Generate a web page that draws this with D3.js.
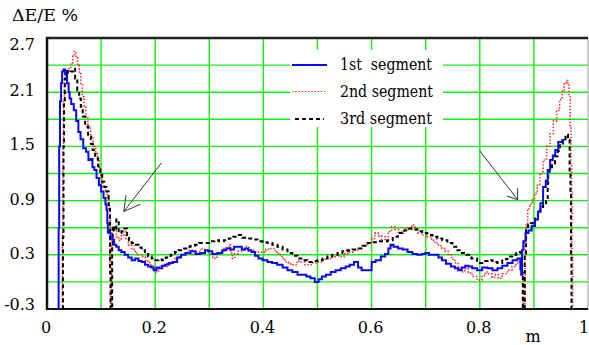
<!DOCTYPE html>
<html>
<head>
<meta charset="utf-8">
<script src="https://cdn.jsdelivr.net/npm/d3@7"></script>
<style>
  body { margin: 0; background: #fff; }
  svg { display: block; }
  svg text { font-family: "DejaVu Serif", "Liberation Serif", serif; }
</style>
</head>
<body>
<div id="chart"></div>
<script>
// tick labels
const yTicks = [2.7, 2.1, 1.5, 0.9, 0.3, -0.3];
const yGrid = [2.4, 2.1, 1.8, 1.5, 1.2, 0.9, 0.6, 0.3, 0.0];
const xTicks = [0, 0.2, 0.4, 0.6, 0.8, 1];
const xGrid = [0.1, 0.2, 0.3, 0.4, 0.5, 0.6, 0.7, 0.8, 0.9];
const seriesNames = ["1st  segment", "2nd segment", "3rd segment"];

// 1st segment (blue), [m, dE/E %]
const seg1 = [[0.021,-0.3],[0.022,0.6],[0.023,1.5],[0.025,2.0],[0.027,2.2],[0.029,2.33],[0.032,2.35],[0.035,2.3],
  [0.039,2.2],[0.041,2.1],[0.0425,2.03],[0.047,1.97],[0.052,1.9],[0.056,1.78],[0.06,1.66],[0.064,1.58],[0.07,1.48],
  [0.074,1.44],[0.079,1.35],[0.082,1.36],[0.086,1.27],[0.089,1.24],[0.094,1.15],[0.098,1.07],[0.102,1.0],[0.107,0.93],
  [0.109,0.86],[0.111,0.80],[0.112,0.65],[0.113,0.55],[0.116,0.54],[0.119,0.5],[0.122,0.47],[0.126,0.41],[0.13,0.39],
  [0.135,0.35],[0.14,0.33],[0.147,0.30],[0.153,0.27],[0.16,0.24],[0.166,0.26],[0.172,0.23],[0.178,0.22],[0.184,0.19],
  [0.19,0.17],[0.195,0.16],[0.2,0.13],[0.205,0.16],[0.209,0.15],[0.215,0.18],[0.221,0.19],[0.229,0.21],[0.237,0.22],
  [0.244,0.27],[0.252,0.30],[0.26,0.32],[0.27,0.34],[0.279,0.31],[0.289,0.32],[0.295,0.35],[0.301,0.34],[0.31,0.31],
  [0.32,0.32],[0.328,0.35],[0.335,0.37],[0.342,0.36],[0.35,0.39],[0.357,0.39],[0.363,0.36],[0.369,0.37],[0.375,0.35],
  [0.381,0.33],[0.388,0.29],[0.394,0.26],[0.403,0.24],[0.412,0.22],[0.42,0.21],[0.431,0.19],[0.44,0.16],[0.449,0.13],
  [0.458,0.11],[0.468,0.08],[0.476,0.08],[0.483,0.06],[0.491,0.04],[0.499,0.0],[0.505,0.03],[0.511,0.06],[0.52,0.08],
  [0.529,0.11],[0.538,0.13],[0.548,0.15],[0.556,0.17],[0.563,0.19],[0.572,0.22],[0.578,0.16],[0.585,0.13],[0.597,0.13],
  [0.603,0.22],[0.612,0.24],[0.622,0.28],[0.628,0.31],[0.634,0.37],[0.636,0.41],[0.645,0.39],[0.653,0.37],[0.662,0.36],
  [0.671,0.33],[0.68,0.31],[0.689,0.30],[0.696,0.31],[0.702,0.32],[0.71,0.30],[0.72,0.30],[0.727,0.27],[0.733,0.24],
  [0.742,0.2],[0.751,0.17],[0.757,0.15],[0.763,0.13],[0.77,0.16],[0.776,0.18],[0.782,0.17],[0.79,0.15],[0.8,0.13],
  [0.809,0.16],[0.819,0.15],[0.828,0.13],[0.837,0.15],[0.846,0.18],[0.856,0.21],[0.865,0.24],[0.874,0.26],[0.876,0.14],
  [0.877,0.08],[0.879,0.35],[0.882,0.45],[0.887,0.54],[0.893,0.57],[0.899,0.62],[0.905,0.69],[0.91,0.78],[0.914,0.87],
  [0.92,1.05],[0.924,1.12],[0.927,1.24],[0.933,1.35],[0.937,1.4],[0.942,1.46],[0.948,1.55],[0.957,1.57]];

// 2nd segment (red dotted)
const seg2 = [[0.028,-0.3],[0.029,0.5],[0.030,1.5],[0.031,2.0],[0.033,2.25],[0.037,2.32],[0.042,2.36],[0.046,2.42],
  [0.049,2.5],[0.052,2.55],[0.055,2.48],[0.058,2.4],[0.061,2.31],[0.064,2.18],[0.067,2.05],[0.07,1.94],[0.073,1.83],
  [0.078,1.72],[0.083,1.61],[0.088,1.5],[0.092,1.42],[0.095,1.35],[0.098,1.25],[0.101,1.15],[0.104,1.05],[0.11,1.02],
  [0.113,0.91],[0.116,0.8],[0.117,0.2],[0.118,-0.3],[0.119,-0.3],[0.12,0.4],[0.121,0.6],[0.126,0.57],[0.13,0.5],
  [0.135,0.46],[0.14,0.52],[0.144,0.56],[0.148,0.48],[0.153,0.41],[0.16,0.36],[0.166,0.32],[0.172,0.30],[0.178,0.28],
  [0.186,0.23],[0.194,0.19],[0.198,0.14],[0.203,0.11],[0.21,0.15],[0.218,0.17],[0.225,0.2],[0.233,0.22],[0.241,0.26],
  [0.249,0.30],[0.256,0.32],[0.264,0.35],[0.272,0.31],[0.28,0.33],[0.288,0.37],[0.295,0.35],[0.302,0.31],[0.311,0.26],
  [0.317,0.31],[0.323,0.33],[0.33,0.37],[0.335,0.38],[0.338,0.41],[0.341,0.32],[0.344,0.26],[0.35,0.31],[0.356,0.34],
  [0.363,0.35],[0.37,0.39],[0.376,0.34],[0.381,0.35],[0.39,0.33],[0.4,0.33],[0.409,0.36],[0.418,0.37],[0.425,0.33],
  [0.431,0.30],[0.437,0.26],[0.443,0.22],[0.45,0.2],[0.458,0.19],[0.466,0.23],[0.474,0.22],[0.48,0.19],[0.486,0.19],
  [0.495,0.21],[0.505,0.22],[0.514,0.25],[0.523,0.26],[0.53,0.28],[0.535,0.30],[0.544,0.28],[0.554,0.31],[0.563,0.33],
  [0.571,0.35],[0.579,0.37],[0.588,0.40],[0.597,0.43],[0.603,0.48],[0.609,0.54],[0.615,0.51],[0.622,0.47],[0.628,0.50],
  [0.634,0.56],[0.64,0.61],[0.646,0.58],[0.653,0.55],[0.659,0.56],[0.665,0.6],[0.671,0.58],[0.677,0.63],[0.683,0.59],
  [0.689,0.54],[0.697,0.52],[0.708,0.50],[0.714,0.46],[0.72,0.43],[0.727,0.4],[0.733,0.37],[0.739,0.34],[0.745,0.30],
  [0.751,0.25],[0.757,0.21],[0.763,0.15],[0.769,0.11],[0.775,0.15],[0.782,0.1],[0.79,0.06],[0.8,0.02],[0.808,0.07],
  [0.813,0.11],[0.819,0.09],[0.826,0.05],[0.832,0.08],[0.837,0.04],[0.846,0.09],[0.856,0.13],[0.863,0.17],[0.871,0.21],
  [0.876,0.24],[0.879,0.1],[0.881,-0.3],[0.883,-0.3],[0.884,0.43],[0.887,0.65],[0.89,0.81],[0.895,0.86],[0.899,0.91],
  [0.904,0.98],[0.908,1.07],[0.914,1.2],[0.92,1.35],[0.927,1.5],[0.933,1.64],[0.939,1.78],[0.945,1.90],[0.95,2.02],
  [0.954,2.12],[0.958,2.19],[0.961,2.23],[0.964,2.2],[0.966,2.05],[0.968,1.72],[0.969,1.3],[0.97,0.98],[0.971,0.3],
  [0.972,-0.3]];

// 3rd segment (black dashed)
const seg3 = [[0.029,-0.3],[0.030,0.5],[0.031,1.5],[0.032,2.0],[0.034,2.25],[0.036,2.35],[0.041,2.31],[0.046,2.33],
  [0.05,2.36],[0.054,2.25],[0.058,2.12],[0.061,2.03],[0.064,1.94],[0.068,1.83],[0.073,1.72],[0.079,1.61],[0.083,1.53],
  [0.086,1.46],[0.092,1.37],[0.097,1.28],[0.1,1.22],[0.104,1.11],[0.108,1.05],[0.112,1.0],[0.116,0.83],[0.117,0.1],
  [0.118,-0.3],[0.12,-0.3],[0.121,0.4],[0.122,0.62],[0.126,0.57],[0.13,0.69],[0.135,0.54],[0.14,0.56],[0.146,0.59],
  [0.15,0.5],[0.153,0.46],[0.16,0.43],[0.166,0.41],[0.172,0.38],[0.178,0.35],[0.184,0.31],[0.19,0.28],[0.197,0.26],
  [0.203,0.24],[0.209,0.25],[0.215,0.24],[0.224,0.27],[0.233,0.30],[0.24,0.33],[0.246,0.35],[0.254,0.37],[0.261,0.39],
  [0.27,0.40],[0.277,0.41],[0.285,0.43],[0.295,0.43],[0.305,0.45],[0.314,0.46],[0.322,0.45],[0.332,0.46],[0.34,0.48],
  [0.348,0.5],[0.357,0.52],[0.365,0.49],[0.375,0.48],[0.384,0.47],[0.394,0.45],[0.403,0.44],[0.412,0.43],[0.421,0.41],
  [0.431,0.39],[0.44,0.36],[0.449,0.32],[0.458,0.29],[0.468,0.26],[0.477,0.24],[0.486,0.22],[0.495,0.23],[0.505,0.24],
  [0.514,0.26],[0.523,0.28],[0.532,0.30],[0.542,0.32],[0.55,0.34],[0.56,0.35],[0.57,0.36],[0.579,0.37],[0.588,0.40],
  [0.597,0.43],[0.606,0.44],[0.616,0.45],[0.625,0.45],[0.634,0.46],[0.644,0.5],[0.653,0.54],[0.662,0.57],[0.671,0.59],
  [0.68,0.58],[0.689,0.56],[0.698,0.54],[0.708,0.52],[0.717,0.5],[0.726,0.48],[0.735,0.46],[0.745,0.43],[0.754,0.39],
  [0.763,0.35],[0.771,0.32],[0.779,0.30],[0.79,0.26],[0.8,0.21],[0.81,0.23],[0.819,0.24],[0.828,0.22],[0.837,0.21],
  [0.846,0.25],[0.856,0.28],[0.864,0.3],[0.871,0.32],[0.877,0.33],[0.879,0.1],[0.88,-0.3],[0.882,-0.3],[0.884,0.3],
  [0.887,0.61],[0.892,0.63],[0.896,0.65],[0.9,0.68],[0.905,0.72],[0.91,0.78],[0.914,0.83],[0.92,0.87],[0.925,0.91],
  [0.926,1.1],[0.927,1.20],[0.931,1.24],[0.936,1.31],[0.942,1.39],[0.946,1.45],[0.951,1.53],[0.956,1.58],[0.961,1.63],
  [0.965,1.57],[0.967,1.2],[0.968,0.98],[0.969,0.3],[0.97,-0.3]];

const W = 589, H = 345;
const plotLeft = 47, plotRight = 588, plotTop = 38, plotBottom = 309;

const svg = d3.select("#chart").append("svg")
  .attr("width", W).attr("height", H);

const x = d3.scaleLinear().domain([0, 1]).range([plotLeft, plotRight]);
const y = d3.scaleLinear().domain([-0.3, 2.7]).range([plotBottom, plotTop]);

const green = "#12f012";

// grid
const grid = svg.append("g");
grid.selectAll("line.v").data(xGrid).join("line").attr("class", "v")
  .attr("x1", d => x(d)).attr("x2", d => x(d))
  .attr("y1", plotTop).attr("y2", plotBottom)
  .attr("stroke", green).attr("stroke-width", 1.4);
grid.selectAll("line.h").data(yGrid).join("line").attr("class", "h")
  .attr("x1", plotLeft).attr("x2", plotRight)
  .attr("y1", d => y(d)).attr("y2", d => y(d))
  .attr("stroke", green).attr("stroke-width", 1.4);

// legend background hides grid
svg.append("rect").attr("x", 290).attr("y", 50).attr("width", 153).attr("height", 77).attr("fill", "#fff");

// frame
svg.append("line").attr("x1", plotRight).attr("x2", plotRight).attr("y1", plotTop).attr("y2", plotBottom)
  .attr("stroke", "#999").attr("stroke-width", 1);
svg.append("line").attr("x1", plotLeft - 1).attr("x2", plotRight).attr("y1", plotTop).attr("y2", plotTop)
  .attr("stroke", "#222").attr("stroke-width", 2.5);
svg.append("line").attr("x1", plotLeft - 1).attr("x2", plotRight).attr("y1", plotBottom).attr("y2", plotBottom)
  .attr("stroke", "#111").attr("stroke-width", 2);
svg.append("line").attr("x1", plotLeft).attr("x2", plotLeft).attr("y1", plotTop - 1).attr("y2", plotBottom + 1)
  .attr("stroke", "#111").attr("stroke-width", 2.5);

// series
svg.append("clipPath").attr("id", "plot").append("rect")
  .attr("x", plotLeft).attr("y", plotTop).attr("width", plotRight - plotLeft).attr("height", plotBottom - plotTop);

const line = d3.line().x(d => x(d[0])).y(d => y(d[1])).curve(d3.curveStep);
const styles = [
  { data: seg1, color: "#0a0af0", width: 2, dash: null },
  { data: seg2, color: "#ff2020", width: 1.6, dash: "1.4,1.8" },
  { data: seg3, color: "#000", width: 2, dash: "4,3" }
];
const plot = svg.append("g").attr("clip-path", "url(#plot)");
[styles[1], styles[2], styles[0]].forEach(s => {
  plot.append("path").datum(s.data)
    .attr("d", line)
    .attr("fill", "none")
    .attr("stroke", s.color)
    .attr("stroke-width", s.width)
    .attr("stroke-dasharray", s.dash);
});

// y tick labels
svg.append("g").selectAll("text").data(yTicks).join("text")
  .attr("x", 35)
  .attr("y", (d, i) => i === 0 ? y(d) + 12 : i === yTicks.length - 1 ? y(d) + 1 : y(d) + 4)
  .attr("text-anchor", "end")
  .attr("font-size", 16)
  .text(d => d3.format(".1f")(d).replace("−", "-"));

// x tick labels
svg.append("g").selectAll("text").data(xTicks).join("text")
  .attr("x", d => d === 1 ? x(d) - 4 : x(d) - 1)
  .attr("y", 333)
  .attr("text-anchor", "middle")
  .attr("font-size", 16)
  .text(d => d === 0 || d === 1 ? d3.format("d")(d) : d3.format(".1f")(d));

svg.append("text").attr("x", 533).attr("y", 342).attr("text-anchor", "middle")
  .attr("font-size", 16).text("m");

// y title
svg.append("text").attr("x", 12).attr("y", 21)
  .attr("font-size", 16)
  .attr("textLength", 66).attr("lengthAdjust", "spacingAndGlyphs")
  .text("ΔE/E %");

// legend
const legY = [65, 91.5, 119];
const legTextW = [92, 93, 92];
const leg = svg.append("g");
styles.forEach((s, i) => {
  leg.append("line")
    .attr("x1", i === 2 ? 295 : 292).attr("x2", i === 2 ? 324 : 327)
    .attr("y1", legY[i]).attr("y2", legY[i])
    .attr("stroke", s.color)
    .attr("stroke-width", i === 1 ? 1 : s.width)
    .attr("stroke-dasharray", s.dash);
  leg.append("text")
    .attr("x", 340).attr("y", legY[i] + 5)
    .attr("font-size", 16)
    .attr("textLength", legTextW[i]).attr("lengthAdjust", "spacingAndGlyphs")
    .style("white-space", "pre")
    .text(seriesNames[i]);
});

// arrows pointing at the segment joints
const arrows = [
  { from: [0.212, 1.32], to: [0.142, 0.78], h1: [0.146, 0.96], h2: [0.173, 0.86] },
  { from: [0.8, 1.45], to: [0.87, 0.91], h1: [0.87, 1.04], h2: [0.85, 0.95] }
];
const ag = svg.append("g").attr("stroke", "#333").attr("stroke-width", 1).attr("fill", "none");
arrows.forEach(a => {
  ag.append("line").attr("x1", x(a.from[0])).attr("y1", y(a.from[1]))
    .attr("x2", x(a.to[0])).attr("y2", y(a.to[1]));
  ag.append("polyline").attr("points",
    [a.h1, a.to, a.h2].map(p => [x(p[0]), y(p[1])].join(",")).join(" "));
});
</script>
</body>
</html>
